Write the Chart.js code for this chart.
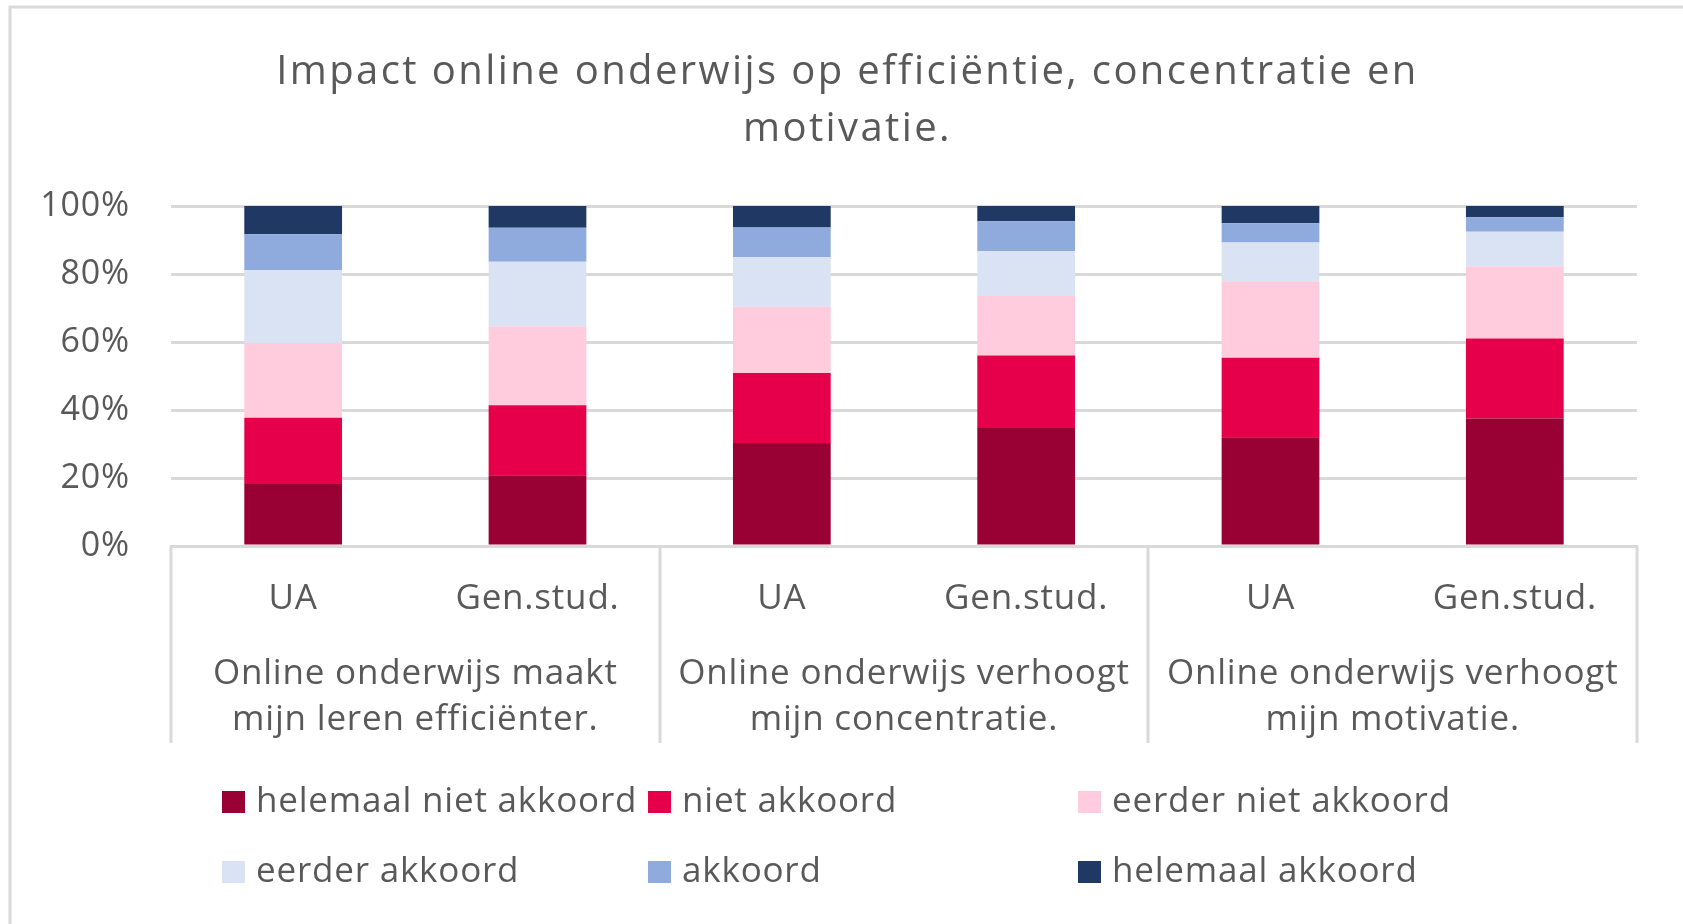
<!DOCTYPE html>
<html>
<head>
<meta charset="utf-8">
<title>Impact online onderwijs</title>
<script src="https://cdn.jsdelivr.net/npm/chart.js"></script>
<style>
  html, body { margin: 0; padding: 0; background: #fff; }
  #wrap { position: relative; width: 1683px; height: 924px; }
</style>
</head>
<body>
<div id="wrap"><canvas id="chart"></canvas></div>
<script>
// categories (sub level) and group labels (top level)
const categories = ['UA', 'Gen.stud.', 'UA', 'Gen.stud.', 'UA', 'Gen.stud.'];
const groupLabels = [
  ['Online onderwijs maakt', 'mijn leren efficiënter.'],
  ['Online onderwijs verhoogt', 'mijn concentratie.'],
  ['Online onderwijs verhoogt', 'mijn motivatie.']
];
const titleLines = ['Impact online onderwijs op efficiëntie, concentratie en', 'motivatie.'];
const yTicks = [0, 20, 40, 60, 80, 100];

// series values in percent
const helemaalNietAkkoord = [18.2, 20.8, 30.3, 34.7, 32.0, 37.5];
const nietAkkoord         = [19.5, 20.6, 20.6, 21.3, 23.4, 23.5];
const eerderNietAkkoord   = [22.0, 23.2, 19.5, 17.5, 22.5, 21.3];
const eerderAkkoord       = [21.4, 19.0, 14.5, 13.2, 11.4, 10.1];
const akkoord             = [10.6, 10.0, 8.8, 8.8, 5.6, 4.3];
const helemaalAkkoord     = [8.3, 6.4, 6.3, 4.5, 5.1, 3.3];

const seriesNames = ['helemaal niet akkoord', 'niet akkoord', 'eerder niet akkoord',
  'eerder akkoord', 'akkoord', 'helemaal akkoord'];
const seriesData = [helemaalNietAkkoord, nietAkkoord, eerderNietAkkoord,
  eerderAkkoord, akkoord, helemaalAkkoord];
const seriesColors = ['#990033', '#E6004C', '#FFCCDD', '#DAE3F3', '#8FAADC', '#203864'];

const FONT = '"Open Sans", sans-serif';
const TEXT = '#595959';
const LINE = '#D9D9D9';

// outer frame, title, group labels under the axis and the legend
const extras = {
  id: 'extras',
  beforeDraw(chart) {
    const ctx = chart.ctx;
    ctx.save();
    ctx.strokeStyle = LINE;
    ctx.lineWidth = 3;
    ctx.beginPath();
    ctx.moveTo(10, 924);
    ctx.lineTo(10, 7);
    ctx.lineTo(1683, 7);
    ctx.stroke();
    // title, a bit letter-spaced like the original
    ctx.fillStyle = TEXT;
    ctx.font = '40px ' + FONT;
    ctx.letterSpacing = '2.4px';
    ctx.textAlign = 'center';
    ctx.textBaseline = 'middle';
    const cx = 1683 / 2 + 6;
    titleLines.forEach((t, i) => ctx.fillText(t, cx, 73 + i * 57));
    ctx.restore();
    // slight spacing for axis labels too
    ctx.letterSpacing = '0.8px';
  },
  afterDraw(chart) {
    const ctx = chart.ctx;
    const x = chart.scales.x;
    const area = chart.chartArea;
    ctx.save();
    // separators between groups
    ctx.strokeStyle = LINE;
    ctx.lineWidth = 3;
    const half = (x.getPixelForValue(1) - x.getPixelForValue(0)) / 2;
    const seps = [area.left];
    for (let g = 0; g < groupLabels.length; g++) {
      seps.push(x.getPixelForValue(g * 2 + 1) + half);
    }
    seps.forEach((px) => {
      ctx.beginPath();
      ctx.moveTo(Math.round(px), area.bottom);
      ctx.lineTo(Math.round(px), 743);
      ctx.stroke();
    });
    // group labels
    ctx.fillStyle = TEXT;
    ctx.font = '35px ' + FONT;
    ctx.letterSpacing = '0.8px';
    ctx.textAlign = 'center';
    ctx.textBaseline = 'middle';
    groupLabels.forEach((lines, g) => {
      const cx = (x.getPixelForValue(g * 2) + x.getPixelForValue(g * 2 + 1)) / 2;
      lines.forEach((t, i) => ctx.fillText(t, cx, 674 + i * 46));
    });
    // legend, 3 columns x 2 rows
    const colX = [222, 648, 1078];
    const rowY = [802, 872];
    ctx.textAlign = 'left';
    chart.data.datasets.forEach((ds, i) => {
      const bx = colX[i % 3];
      const by = rowY[Math.floor(i / 3)];
      ctx.fillStyle = ds.backgroundColor;
      ctx.fillRect(bx, by - 11, 23, 22);
      ctx.fillStyle = TEXT;
      ctx.fillText(ds.label, bx + 34, by);
    });
    ctx.restore();
  }
};

new Chart(document.getElementById('chart'), {
  type: 'bar',
  data: {
    labels: categories,
    datasets: seriesNames.map((name, i) => ({
      label: name,
      data: seriesData[i],
      backgroundColor: seriesColors[i],
      borderWidth: 0,
      barPercentage: 0.4,
      categoryPercentage: 1
    }))
  },
  options: {
    responsive: true,
    maintainAspectRatio: false,
    animation: false,
    layout: { padding: { left: 0, right: 46, top: 206, bottom: 178 } },
    plugins: {
      legend: { display: false },
      tooltip: { enabled: false },
      title: { display: false }
    },
    scales: {
      x: {
        stacked: true,
        grid: { display: false, drawTicks: false },
        border: { display: true, color: LINE, width: 3 },
        ticks: { color: TEXT, font: { family: FONT, size: 35 }, padding: 32, maxRotation: 0, autoSkip: false },
        afterFit(scale) { scale.height = 200; }
      },
      y: {
        stacked: true,
        min: 0,
        max: 100,
        afterBuildTicks(scale) { scale.ticks = yTicks.map((v) => ({ value: v })); },
        grid: { color: LINE, lineWidth: 3, drawTicks: false },
        border: { display: false },
        ticks: {
          color: TEXT,
          font: { family: FONT, size: 34 },
          padding: 41,
          callback: (v) => v + '%'
        },
        afterFit(scale) { scale.width = 171; }
      }
    }
  },
  plugins: [extras]
});
</script>
</body>
</html>
